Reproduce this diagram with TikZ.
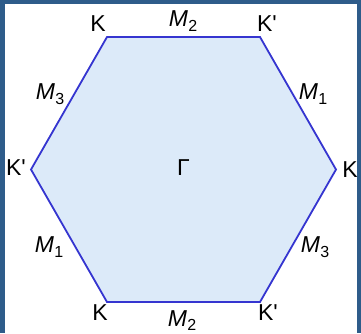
\documentclass[tikz,border=0pt]{standalone}
\usepackage{fontspec}
\setmainfont{Liberation Sans}[Ligatures=TeXOff]
\definecolor{frame}{HTML}{2E5C8A}
\definecolor{edge}{HTML}{3535D0}
\definecolor{hexfill}{HTML}{DCEAF9}
\newcommand{\Mlab}[1]{\textit{M}\kern0.3pt\raisebox{-0.38ex}{\fontsize{16}{16}\selectfont #1}}
\tikzset{
  lab/.style={font=\fontsize{23}{23}\selectfont, inner sep=0pt, anchor=center},
  hexedge/.style={draw=edge, line width=1.8pt, fill=hexfill, line join=miter}
}
\begin{document}
\begin{tikzpicture}[x=1pt,y=-1pt]
\useasboundingbox (0,0) rectangle (361,333);
\fill[frame] (0,0) rectangle (361,333);
\fill[white] (5,4) rectangle (357,333);
\coordinate (vL) at (31,169.5);
\coordinate (vTL) at (107,37);
\coordinate (vTR) at (260,37);
\coordinate (vR) at (336,169.5);
\coordinate (vBR) at (260,302);
\coordinate (vBL) at (107,302);
\draw[hexedge] (vL) -- (vTL) -- (vTR) -- (vR) -- (vBR) -- (vBL) -- cycle;
\node[lab] (kTL) at (98,23.5) {K};
\node[lab] (kTR) at (267,23.5) {K'};
\node[lab] (kL) at (16,168) {K'};
\node[lab] (kR) at (350,170) {K};
\node[lab] (kBL) at (100,312.5) {K};
\node[lab] (kBR) at (268,312.5) {K'};
\node[lab] (m2T) at (183,21) {\Mlab{2}};
\node[lab] (m2B) at (182,320.5) {\Mlab{2}};
\node[lab] (m3L) at (50,94) {\Mlab{3}};
\node[lab] (m1R) at (313,94) {\Mlab{1}};
\node[lab] (m1L) at (49,247) {\Mlab{1}};
\node[lab] (m3R) at (315,247) {\Mlab{3}};
\node[lab] (gam) at (183.5,168) {Γ};
\end{tikzpicture}
\end{document}
